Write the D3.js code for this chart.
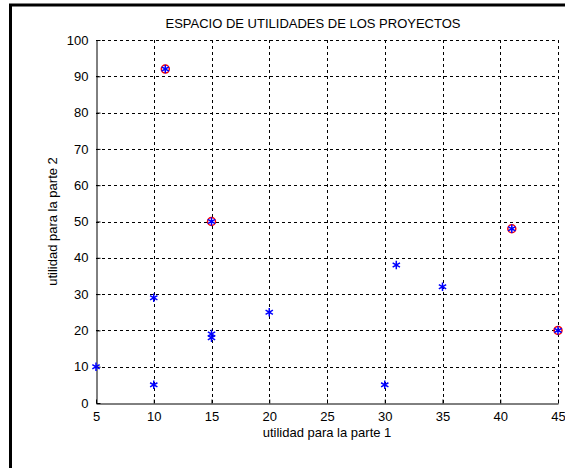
<!DOCTYPE html>
<html>
<head>
<meta charset="utf-8">
<script src="https://cdn.jsdelivr.net/npm/d3@7"></script>
<style>
body { margin: 0; background: #fff; }
svg { display: block; font-family: "Liberation Sans", Arial, sans-serif; }
.grid line { stroke: #000; stroke-dasharray: 3,3; stroke-width: 1; }
</style>
</head>
<body>
<div id="graph"></div>
<script>
// all projects (parte 1, parte 2)
const utilP1 = [5, 10, 10, 11, 15, 15, 15, 20, 30, 31, 35, 41, 45];
const utilP2 = [10, 5, 29, 92, 18, 19, 50, 25, 5, 38, 32, 48, 20];
// efficient ones (circled)
const efP1 = [11, 15, 41, 45];
const efP2 = [92, 50, 48, 20];
const xTicks = [5, 10, 15, 20, 25, 30, 35, 40, 45];
const yTicks = [0, 10, 20, 30, 40, 50, 60, 70, 80, 90, 100];

const w = 565, h = 468;
const padding_left = 96, padding_right = 7, padding_top = 40, padding_bottom = 65;

const svg = d3.select('#graph').append('svg')
    .attr('width', w).attr('height', h);

// figure frame (left + top)
svg.append('line').attr('x1', 10.5).attr('x2', 10.5).attr('y1', 4).attr('y2', h).attr('stroke', '#000').attr('stroke-width', 3);
svg.append('line').attr('x1', 9).attr('x2', w).attr('y1', 5).attr('y2', 5).attr('stroke', '#000').attr('stroke-width', 3);

const xScale = d3.scaleLinear().domain([5, 45]).range([padding_left, w - padding_right]);
const yScale = d3.scaleLinear().domain([0, 100]).range([h - padding_bottom, padding_top]);

// grid
const grid = svg.append('g').attr('class', 'grid');
grid.selectAll('.gx').data(xTicks.slice(1)).enter().append('line')
    .attr('x1', d => Math.round(xScale(d)) + 0.5).attr('x2', d => Math.round(xScale(d)) + 0.5)
    .attr('y1', yScale(100)).attr('y2', yScale(0));
grid.selectAll('.gy').data(yTicks.slice(1)).enter().append('line')
    .attr('y1', d => Math.round(yScale(d)) + 0.5).attr('y2', d => Math.round(yScale(d)) + 0.5)
    .attr('x1', xScale(5)).attr('x2', xScale(45));

// axes
const xAxis = d3.axisBottom(xScale).tickValues(xTicks).tickSizeInner(-4).tickSizeOuter(0).tickPadding(8);
const yAxis = d3.axisLeft(yScale).tickValues(yTicks).tickSizeInner(-4).tickSizeOuter(0).tickPadding(8);
svg.append('g').attr('transform', 'translate(0,' + (Math.round(yScale(0)) + 0.5) + ')').call(xAxis)
    .call(g => g.selectAll('text').attr('font-size', 13).attr('fill', '#000').attr('font-family', null));
svg.append('g').attr('transform', 'translate(' + (Math.round(xScale(5)) + 0.5) + ',0)').call(yAxis)
    .call(g => g.selectAll('text').attr('font-size', 13).attr('fill', '#000').attr('font-family', null));
svg.selectAll('.domain').attr('stroke', '#000');

// red circles
svg.selectAll('.ef').data(efP1).enter().append('circle')
    .attr('cx', d => xScale(d)).attr('cy', (d, i) => yScale(efP2[i]))
    .attr('r', 4).attr('fill', 'none').attr('stroke', '#f00').attr('stroke-width', 1.5);

// blue asterisks
const star = d3.symbol().type(d3.symbolAsterisk).size(50);
svg.selectAll('.pt').data(utilP1).enter().append('path')
    .attr('d', star)
    .attr('transform', (d, i) => 'translate(' + xScale(d) + ',' + yScale(utilP2[i]) + ')')
    .attr('stroke', '#00f').attr('stroke-width', 1.5).attr('fill', 'none');

// title and labels
svg.append('text').text('ESPACIO DE UTILIDADES DE LOS PROYECTOS')
    .attr('x', (xScale(5) + xScale(45)) / 2 - 14).attr('y', 28)
    .attr('text-anchor', 'middle').attr('font-size', 13);
svg.append('text').text('utilidad para la parte 1')
    .attr('x', (xScale(5) + xScale(45)) / 2).attr('y', 437)
    .attr('text-anchor', 'middle').attr('font-size', 13);
svg.append('text').text('utilidad para la parte 2')
    .attr('transform', 'translate(57,' + (yScale(50)) + ') rotate(-90)')
    .attr('text-anchor', 'middle').attr('font-size', 13);
</script>
</body>
</html>
